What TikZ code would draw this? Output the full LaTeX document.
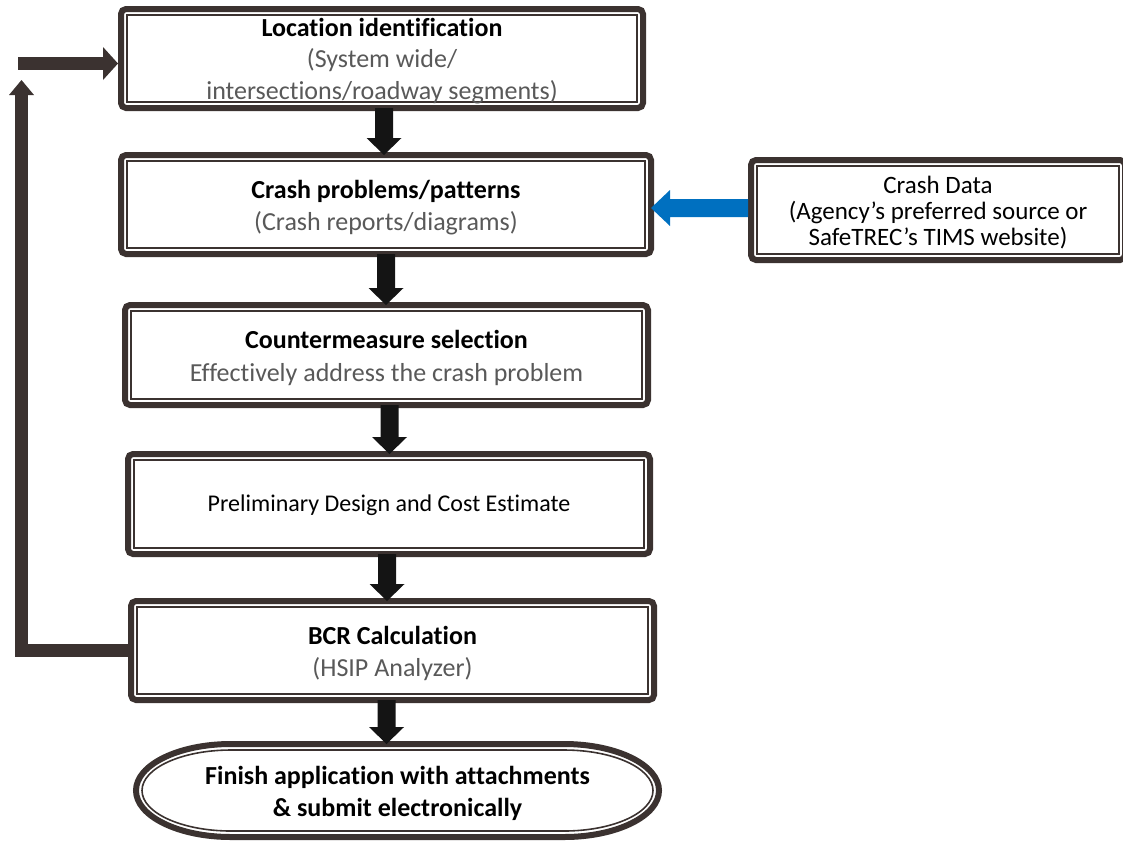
\documentclass[tikz,border=0pt]{standalone}
\usepackage{fontspec}
\setmainfont{Carlito}[Ligatures=NoCommon]
\usetikzlibrary{calc}
\definecolor{bord}{RGB}{59,50,48}
\definecolor{gtext}{RGB}{89,89,89}
\definecolor{cblue}{RGB}{0,112,192}
\newcommand\innerbox[1]{\draw[inline] ($(#1.north west)+(6,6)$) rectangle ($(#1.south east)+(-6,-6)$);}
\newcommand\vblock[2]{\fill[darrow] let \p1=(#1), \p2=(#2) in (\x1-9pt,\y1) -- (\x1+9pt,\y1) -- (\x1+9pt,\y2+17pt) -- (\x1+17.5pt,\y2+17pt) -- (\x1,\y2) -- (\x1-17.5pt,\y2+17pt) -- (\x1-9pt,\y2+17pt) -- cycle;}
\begin{document}
\begin{tikzpicture}[x=1pt,y=-1pt,
  boxnode/.style={draw=bord, fill=white, line width=6pt, rounded corners=5pt, inner sep=0pt, outer sep=0pt},
  txt/.style={inner sep=0pt, align=center, font=\fontsize{26}{31}\selectfont},
  inline/.style={draw=bord, line width=1.6pt},
  darrow/.style={fill=black!92}]
\useasboundingbox (0,0) rectangle (1123,844);

% boxes
\node[boxnode, minimum width=522pt, minimum height=99pt] (b1) at (382,58.5) {};
\node[boxnode, minimum width=530pt, minimum height=99pt] (b2) at (386,204.5) {};
\node[boxnode, minimum width=523pt, minimum height=100pt] (b3) at (386.5,355) {};
\node[boxnode, minimum width=522pt, minimum height=100pt] (b4) at (389,504) {};
\node[boxnode, minimum width=523pt, minimum height=99pt] (b5) at (392.5,650.5) {};
\node[boxnode, minimum width=374pt, minimum height=100pt] (crash) at (938,210) {};
\innerbox{b1}
\innerbox{b2}
\innerbox{b3}
\innerbox{b4}
\innerbox{b5}
\innerbox{crash}

% texts
\node[txt, font=\fontsize{26}{31.5}\selectfont] (t1) at ($(b1)+(0,2.5)$)
  {\textbf{Location identification}\\ \textcolor{gtext}{(System wide/}\\ \textcolor{gtext}{intersections/roadway segments)}};
\node[txt, font=\fontsize{26}{32}\selectfont] (t2) at ($(b2)+(0,3)$)
  {\textbf{Crash problems/patterns}\\ \textcolor{gtext}{(Crash reports/diagrams)}};
\node[txt, font=\fontsize{26}{33}\selectfont] (t3) at ($(b3)+(0,3)$)
  {\textbf{Countermeasure selection}\\ \textcolor{gtext}{Effectively address the crash problem}};
\node[txt, font=\fontsize{24}{29}\selectfont] (t4) at ($(b4)+(0,1.5)$)
  {Preliminary Design and Cost Estimate};
\node[txt, font=\fontsize{26}{32}\selectfont] (t5) at ($(b5)+(0,3)$)
  {\textbf{BCR Calculation}\\ \textcolor{gtext}{(HSIP Analyzer)}};
\node[txt, font=\fontsize{25}{26}\selectfont] (tc) at ($(crash)+(0,3)$)
  {Crash Data\\ (Agency’s preferred source or\\ SafeTREC’s TIMS website)};

% terminator
\node[inner sep=0pt, outer sep=0pt, minimum width=523pt, minimum height=93pt] (fin) at (397.5,790.5) {};
\node[txt, font=\bfseries\fontsize{26}{32}\selectfont] (tf) at ($(fin)+(0,3)$)
  {Finish application with attachments\\ \& submit electronically};
\draw[bord, line width=6pt] ($(fin.center)+(-166.5pt,46.5pt)$) -- ++(333pt,0pt)
  arc[start angle=90, end angle=-90, x radius=95pt, y radius=46.5pt] -- ++(-333pt,0pt)
  arc[start angle=270, end angle=90, x radius=95pt, y radius=46.5pt] -- cycle;
\draw[inline] ($(fin.center)+(-166.5pt,40.5pt)$) -- ++(333pt,0pt)
  arc[start angle=90, end angle=-90, x radius=89pt, y radius=40.5pt] -- ++(-333pt,0pt)
  arc[start angle=270, end angle=90, x radius=89pt, y radius=40.5pt] -- cycle;

% down arrows
\vblock{$(b1.south)+(2,0)$}{b2.north}
\vblock{b2.south}{b3.north}
\vblock{$(b3.south)+(3,0)$}{b4.north}
\vblock{$(b4.south)+(-2,0)$}{b5.north}
\vblock{$(b5.south)+(-6,0)$}{fin.north}

% blue arrow
\fill[cblue] let \p1=($(crash.west)+(0,-2)$), \p2=(b2.east) in
  (\x1-3pt,\y1+9pt) -- (\x2+19pt,\y1+9pt) -- (\x2+19pt,\y1+18pt) -- (\x2,\y1)
  -- (\x2+19pt,\y1-18pt) -- (\x2+19pt,\y1-9pt) -- (\x1-3pt,\y1-9pt) -- cycle;

% feedback loop
\coordinate (lc) at (21.5,95);
\coordinate (lt) at (21.5,80);
\draw[bord, line width=13pt, line join=miter] (b5.west) -| (lc);
\fill[bord] ($(lc)+(-12.5,0)$) -- (lt) -- ($(lc)+(12.5,0)$) -- cycle;
\coordinate (rs) at (18,63.5);
\coordinate (rt) at ($(b1.west)+(-3,5)$);
\draw[bord, line width=13pt] (rs) -- ($(rt)+(-15,0)$);
\fill[bord] (rt) -- ++(-15,-16.5) -- ++(0,33) -- cycle;
\end{tikzpicture}
\end{document}
